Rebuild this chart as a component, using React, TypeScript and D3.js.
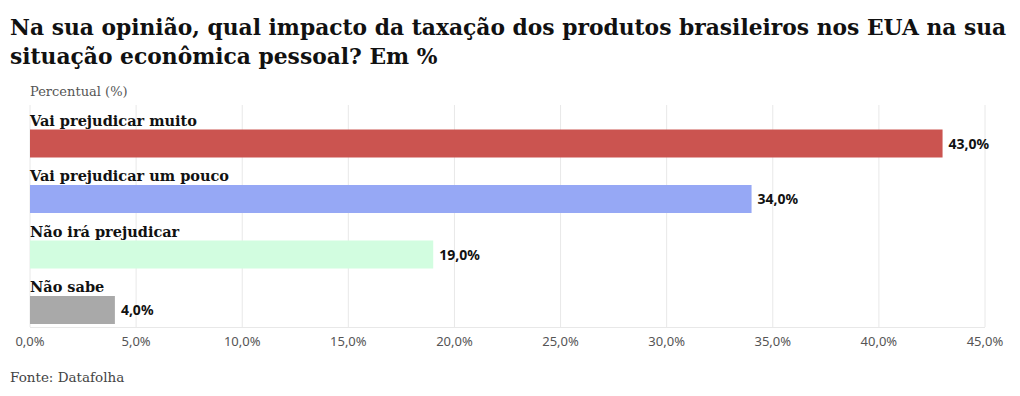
import * as d3 from 'd3';
import React from 'react';

const categories = ['Vai prejudicar muito', 'Vai prejudicar um pouco', 'Não irá prejudicar', 'Não sabe'];
const values = [43.0, 34.0, 19.0, 4.0];
const colors = ['#cb5450', '#96a8f5', '#d2fde0', '#a9a9a9'];
const ticks = [0, 5, 10, 15, 20, 25, 30, 35, 40, 45];
const titleLines = [
  'Na sua opinião, qual impacto da taxação dos produtos brasileiros nos EUA na sua',
  'situação econômica pessoal? Em %',
];
const axisTitle = 'Percentual (%)';
const source = 'Fonte: Datafolha';

const W = 1020;
const H = 396;
const serif = '"DejaVu Serif", "Liberation Serif", serif';
const sans = '"Noto Sans", "Open Sans", sans-serif';

const fmt = (v: number) => d3.format('.1f')(v).replace('.', ',') + '%';

export default function App() {
  const x = d3.scaleLinear().domain([0, 45]).range([30, 985]);
  const y = d3.scaleBand<string>().domain(categories).range([102, 324]);
  const barH = 28;
  const bw = y.bandwidth();

  return (
    <svg width={W} height={H} style={{ position: 'absolute', left: 0, top: 0, background: '#fff' }}>
      {titleLines.map((t, i) => (
        <text key={i} x={10} y={35 + i * 29} fontFamily={serif} fontWeight={700} fontSize={21.8} fill="#111">
          {t}
        </text>
      ))}
      <text x={30} y={96} fontFamily={serif} fontSize={13} fill="#555">{axisTitle}</text>

      {ticks.map(t => (
        <line key={t} x1={x(t)} x2={x(t)} y1={105} y2={327} stroke="#e8e8e8" strokeWidth={1} />
      ))}
      <line x1={30} x2={x(45)} y1={327.5} y2={327.5} stroke="#e8e8e8" />

      {categories.map((c, i) => {
        const top = (y(c) as number) + bw - barH;
        return (
          <g key={c}>
            <text x={30} y={top - 4} fontFamily={serif} fontWeight={700} fontSize={14.5} fill="#111">{c}</text>
            <rect x={x(0)} y={top} width={x(values[i]) - x(0)} height={barH} fill={colors[i]} />
            <text x={x(values[i]) + 6} y={top + barH / 2 + 5} fontFamily={sans} fontWeight={700} fontSize={14} fill="#111">
              {fmt(values[i])}
            </text>
          </g>
        );
      })}

      {ticks.map(t => (
        <text key={t} x={x(t)} y={346} textAnchor="middle" fontFamily={sans} fontSize={13} fill="#555">
          {fmt(t)}
        </text>
      ))}

      <text x={10} y={382} fontFamily={serif} fontSize={13.5} fill="#444">{source}</text>
    </svg>
  );
}
